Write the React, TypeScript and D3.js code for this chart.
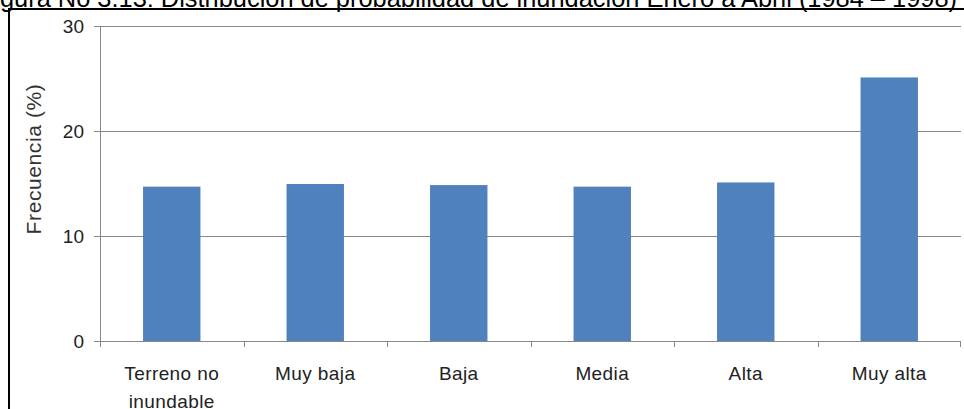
import React from "react";
import * as d3 from "d3";

const categories: string[][] = [
  ["Terreno no", "inundable"],
  ["Muy baja"],
  ["Baja"],
  ["Media"],
  ["Alta"],
  ["Muy alta"],
];
const values: number[] = [14.7, 14.95, 14.85, 14.7, 15.1, 25.1];
const yTicks: number[] = [0, 10, 20, 30];
const titleText = "Figura No 3.13: Distribución de probabilidad de inundación Enero a Abril (1984 – 1998)";
const yLabel = "Frecuencia (%)";

const W = 964;
const H = 409;
const left = 100;
const right = 961;
const top = 26;
const bottom = 341;
const FONT = "'Liberation Sans', Arial, sans-serif";

export default function App() {
  const keys = categories.map((c) => c.join(" "));
  const x = d3.scaleBand<string>().domain(keys).range([left, right]).paddingInner(0.6).paddingOuter(0.3);
  const xb = d3.scaleBand<string>().domain(keys).range([left, right]).padding(0);
  const y = d3.scaleLinear().domain([0, 30]).range([bottom, top]);
  const grid = "#878787";

  return (
    <svg
      width={W}
      height={H}
      style={{ position: "absolute", left: 0, top: 0, background: "#fff" }}
    >
      <text x={-21.2} y={6.5} fontFamily={FONT} fontSize={25.4} fill="#000">
        {titleText}
      </text>
      <rect x={9} y={9} width={W + 10} height={H + 10} fill="none" stroke="#000" strokeWidth={2} />
      {yTicks.map((t) => (
        <g key={t}>
          <line x1={left - 6} x2={right} y1={Math.round(y(t)) + 0.5} y2={Math.round(y(t)) + 0.5} stroke={grid} strokeWidth={1} />
          <text
            x={left - 16}
            y={y(t)}
            dy="0.35em"
            textAnchor="end"
            fontFamily={FONT}
            fontSize={19}
            fill="#222"
          >
            {t}
          </text>
        </g>
      ))}
      <line x1={left + 0.5} x2={left + 0.5} y1={top} y2={bottom} stroke={grid} strokeWidth={1} />
      {keys.map((k, i) => (
        <rect
          key={k}
          x={x(k)}
          width={x.bandwidth()}
          y={y(values[i])}
          height={y(0) - y(values[i])}
          fill="#4F81BD"
        />
      ))}
      {keys.map((k) => (
        <line
          key={"t" + k}
          x1={Math.round(xb(k)!) + 0.5}
          x2={Math.round(xb(k)!) + 0.5}
          y1={bottom}
          y2={bottom + 6}
          stroke={grid}
        />
      ))}
      <line x1={right - 0.5} x2={right - 0.5} y1={bottom} y2={bottom + 6} stroke={grid} />
      {categories.map((lines, i) => (
        <text
          key={"l" + i}
          x={xb(keys[i])! + xb.bandwidth() / 2}
          y={380}
          textAnchor="middle"
          fontFamily={FONT}
          fontSize={19}
          letterSpacing={0.4}
          fill="#222"
        >
          {lines.map((ln, j) => (
            <tspan key={j} x={xb(keys[i])! + xb.bandwidth() / 2} dy={j === 0 ? 0 : 28}>
              {ln}
            </tspan>
          ))}
        </text>
      ))}
      <text
        transform={`translate(41, 159) rotate(-90)`}
        textAnchor="middle"
        fontFamily={FONT}
        fontSize={21}
        letterSpacing={0.6}
        fill="#333"
      >
        {yLabel}
      </text>
    </svg>
  );
}
